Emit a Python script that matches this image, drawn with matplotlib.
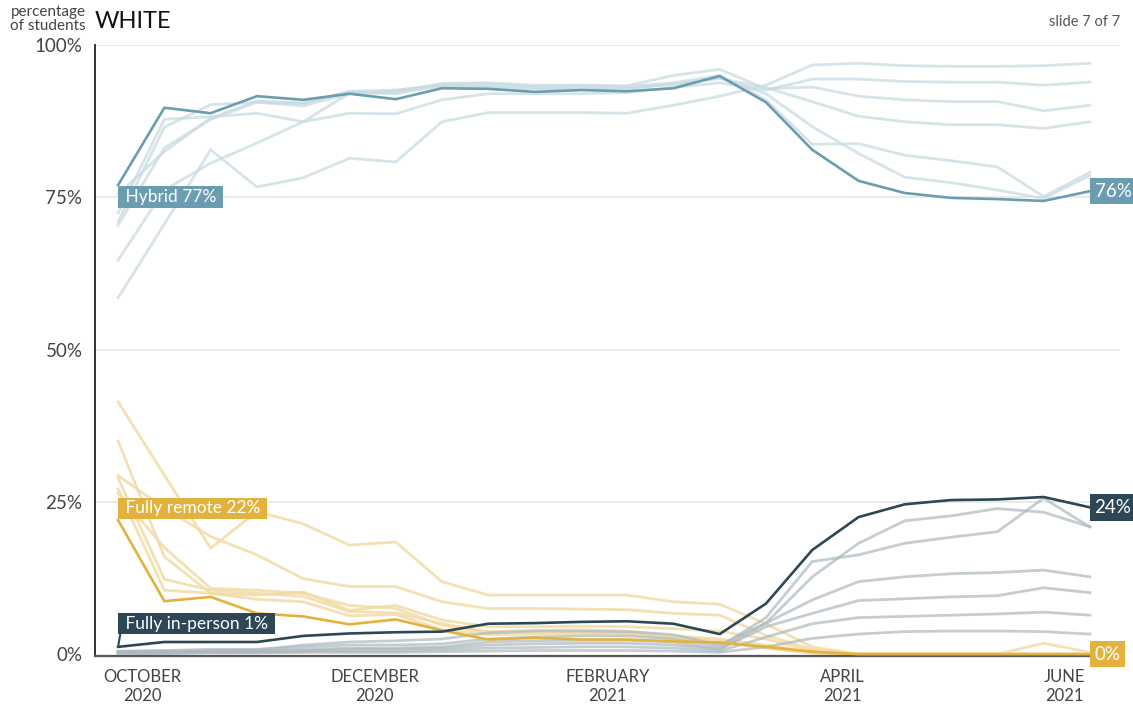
import numpy as np
import matplotlib.pyplot as plt

plt.rcParams['font.family'] = ['Lato', 'DejaVu Sans']

# one point every ~2 weeks, Oct 2020 - Jun 2021
n_points = 22
month_pos = [0.52, 5.55, 10.58, 15.66, 20.45]
month_labels = ['OCTOBER\n2020', 'DECEMBER\n2020', 'FEBRUARY\n2021', 'APRIL\n2021', 'JUNE\n2021']

# highlighted group: White students
hybrid = [77.0, 89.7, 88.8, 91.6, 91.0, 92.0, 91.1, 92.9, 92.8, 92.3, 92.6,
          92.4, 92.9, 94.9, 90.6, 82.8, 77.7, 75.7, 74.9, 74.7, 74.4, 76.0]
remote = [22.0, 8.7, 9.4, 6.7, 6.2, 4.9, 5.7, 3.9, 2.4, 2.7, 2.4,
          2.4, 2.1, 1.9, 1.2, 0.4, 0.0, 0.0, 0.0, 0.0, 0.0, 0.0]
inperson = [1.2, 2.0, 2.0, 2.0, 3.0, 3.4, 3.6, 3.7, 5.0, 5.1, 5.3,
            5.4, 5.0, 3.3, 8.3, 17.1, 22.5, 24.6, 25.3, 25.4, 25.8, 24.1]

# the other groups (faded in the background)
hybrid_other = [
    [58.5, 70.6, 82.8, 76.7, 78.2, 81.4, 80.8, 87.4, 88.9, 88.9, 88.9, 88.8, 90.1, 91.6, 93.4, 96.7, 97.0, 96.6, 96.5, 96.5, 96.6, 97.0],
    [72.4, 87.8, 88.2, 88.8, 87.4, 88.8, 88.7, 91.0, 92.0, 92.0, 92.0, 92.2, 93.0, 93.8, 92.6, 94.4, 94.4, 94.0, 93.9, 93.9, 93.4, 93.9],
    [71.0, 86.5, 90.2, 90.6, 90.4, 92.4, 92.6, 93.5, 93.6, 93.2, 93.3, 93.3, 95.0, 96.0, 92.8, 93.1, 91.6, 91.0, 90.7, 90.7, 89.2, 90.1],
    [64.7, 76.2, 80.6, 83.9, 87.4, 92.1, 92.5, 93.2, 93.0, 92.8, 92.8, 92.9, 93.5, 94.5, 93.0, 90.7, 88.3, 87.4, 86.9, 86.9, 86.3, 87.4],
    [70.4, 83.1, 87.8, 90.6, 90.0, 92.0, 92.2, 93.7, 93.8, 93.4, 93.4, 93.2, 93.8, 95.0, 91.0, 83.7, 83.8, 81.9, 81.0, 80.0, 75.1, 79.1],
    [75.5, 82.5, 88.0, 90.8, 90.5, 92.3, 92.0, 93.3, 93.2, 93.0, 92.9, 92.9, 93.6, 94.6, 92.0, 86.6, 82.2, 78.3, 77.4, 76.2, 74.8, 78.6],
]
remote_other = [
    [41.4, 29.4, 17.4, 23.4, 21.4, 17.9, 18.4, 11.9, 9.7, 9.7, 9.7, 9.7, 8.6, 8.2, 5.0, 1.2, 0, 0, 0, 0, 0, 0],
    [35.0, 16.0, 10.0, 9.7, 10.2, 7.2, 8.0, 5.6, 4.5, 4.5, 4.6, 4.5, 4.2, 3.8, 2.5, 0.5, 0, 0, 0, 0, 0, 0],
    [29.3, 24.0, 19.3, 16.3, 12.4, 11.1, 11.1, 8.6, 7.5, 7.5, 7.4, 7.3, 6.7, 6.4, 3.1, 0.8, 0, 0, 0, 0, 0, 0],
    [28.9, 12.3, 10.5, 10.0, 9.5, 7.0, 6.8, 5.0, 3.7, 3.9, 4.0, 3.8, 3.0, 2.5, 1.5, 0.3, 0, 0, 0, 0, 0, 0],
    [27.1, 10.5, 10.0, 9.0, 8.6, 6.3, 6.5, 4.0, 3.2, 3.3, 3.4, 3.3, 2.6, 2.0, 1.0, 0.2, 0, 0, 0, 0, 1.8, 0.3],
    [26.4, 17.5, 10.8, 10.5, 10.0, 8.0, 7.5, 4.8, 3.5, 3.6, 3.6, 3.5, 2.8, 2.2, 1.0, 0.2, 0, 0, 0, 0, 0, 0],
]
inperson_other = [
    [0.5, 0.6, 0.8, 0.8, 1.2, 1.5, 1.5, 1.7, 2.5, 2.8, 3.0, 3.0, 2.5, 1.2, 6.0, 15.2, 16.3, 18.2, 19.2, 20.1, 25.6, 20.9],
    [0.4, 0.5, 0.6, 0.7, 1.5, 2.0, 2.2, 2.5, 3.5, 3.8, 3.8, 3.7, 3.2, 1.5, 5.1, 12.7, 18.2, 21.9, 22.7, 23.9, 23.3, 20.9],
    [0.3, 0.4, 0.5, 0.5, 0.8, 1.0, 1.0, 1.2, 2.0, 2.2, 2.3, 2.3, 2.0, 0.8, 5.1, 8.9, 11.9, 12.7, 13.2, 13.4, 13.8, 12.7],
    [0.3, 0.3, 0.4, 0.4, 0.6, 0.8, 0.8, 1.0, 1.5, 1.7, 1.8, 1.8, 1.5, 0.8, 4.5, 6.7, 8.8, 9.1, 9.4, 9.6, 10.9, 10.1],
    [0.2, 0.2, 0.3, 0.3, 0.4, 0.5, 0.5, 0.7, 1.0, 1.1, 1.2, 1.2, 1.0, 0.5, 2.8, 5.0, 6.0, 6.2, 6.4, 6.6, 6.9, 6.4],
    [0.1, 0.1, 0.2, 0.2, 0.3, 0.3, 0.3, 0.4, 0.5, 0.6, 0.6, 0.6, 0.5, 0.3, 1.2, 2.6, 3.3, 3.7, 3.8, 3.8, 3.7, 3.3],
]

HYB = '#6b9db1'
REM = '#e3b23c'
INP = '#2d4756'

x = np.arange(n_points)

fig = plt.figure(figsize=(11.33, 7.05), dpi=100)
ax = fig.add_axes([0.0838, 0.0695, 0.9047, 0.8667])

for yy in [25, 50, 75, 100]:
    ax.axhline(yy, color='#e6e6e6', lw=1.2, zorder=0)

for s in remote_other:
    ax.plot(x, s, color='#f2dba6', lw=2.0, alpha=0.85, zorder=1)
for s in inperson_other:
    ax.plot(x, s, color='#adb9bf', lw=2.0, alpha=0.7, zorder=1)
for s in hybrid_other:
    ax.plot(x, s, color='#c9dbe3', lw=2.0, alpha=0.75, zorder=1)

ax.plot(x, remote, color=REM, lw=1.9, zorder=3)
ax.plot(x, hybrid, color=HYB, lw=1.9, zorder=3)
ax.plot(x, inperson, color=INP, lw=1.9, zorder=3)

ax.set_xlim(-0.5, 21.65)
ax.set_ylim(-0.3, 100)

ax.set_yticks([0, 25, 50, 75, 100])
ax.set_yticklabels(['0%', '25%', '50%', '75%', '100%'])
ax.set_xticks(month_pos)
ax.set_xticklabels(month_labels, linespacing=1.3)
ax.tick_params(axis='y', length=0, pad=9, labelsize=13.5, labelcolor='#444444')
ax.tick_params(axis='x', length=0, pad=9, labelsize=12, labelcolor='#444444')

for side in ['top', 'right']:
    ax.spines[side].set_visible(False)
ax.spines['left'].set_color('#222222')
ax.spines['left'].set_linewidth(1.3)
ax.spines['bottom'].set_color('#555555')
ax.spines['bottom'].set_linewidth(1.6)

fs = 12.5
pad = 0.15


def tag(xi, yi, text, color, va, dy=0.0, leader=False):
    off_y = {'top': -pad * fs - 1, 'bottom': pad * fs + 1, 'center': 0}[va] + dy
    arrow = None
    if leader:
        arrow = dict(arrowstyle='-', color=color, lw=1.5, relpos=(0, 0),
                     shrinkA=0, shrinkB=0)
    ax.annotate(' ' + text + ' ', xy=(xi, yi), xytext=(pad * fs, off_y),
                textcoords='offset points', ha='left', va=va,
                fontsize=fs, color='white', zorder=5,
                bbox=dict(boxstyle='square,pad=%s' % pad, fc=color, ec='none'),
                arrowprops=arrow, annotation_clip=False)


tag(0, hybrid[0], 'Hybrid %d%%' % round(hybrid[0]), HYB, 'top')
tag(0, remote[0], 'Fully remote %d%%' % round(remote[0]), REM, 'bottom')
tag(0, inperson[0], 'Fully in-person %d%%' % round(inperson[0]), INP, 'bottom',
    dy=8, leader=True)

last = n_points - 1
rfs = 13.5
for s, c in [(hybrid, HYB), (inperson, INP), (remote, REM)]:
    ax.annotate('%d%%' % round(s[last]), xy=(last, s[last]), xytext=(0.25 * rfs, 0),
                textcoords='offset points', ha='left', va='center',
                fontsize=rfs, color='white', zorder=5,
                bbox=dict(boxstyle='square,pad=0.25', fc=c, ec='none'),
                annotation_clip=False)

fig.text(95 / 1133, 1 - 21 / 705, 'WHITE', fontsize=17, color='#111111',
         ha='left', va='center')
fig.text(86 / 1133, 1 - 19 / 705, 'percentage\nof students', fontsize=11,
         color='#444444', ha='right', va='center', linespacing=0.95)
fig.text(1120 / 1133, 1 - 22 / 705, 'slide 7 of 7', fontsize=10.5,
         color='#555555', ha='right', va='center')

fig.savefig('out.png', dpi=100)
